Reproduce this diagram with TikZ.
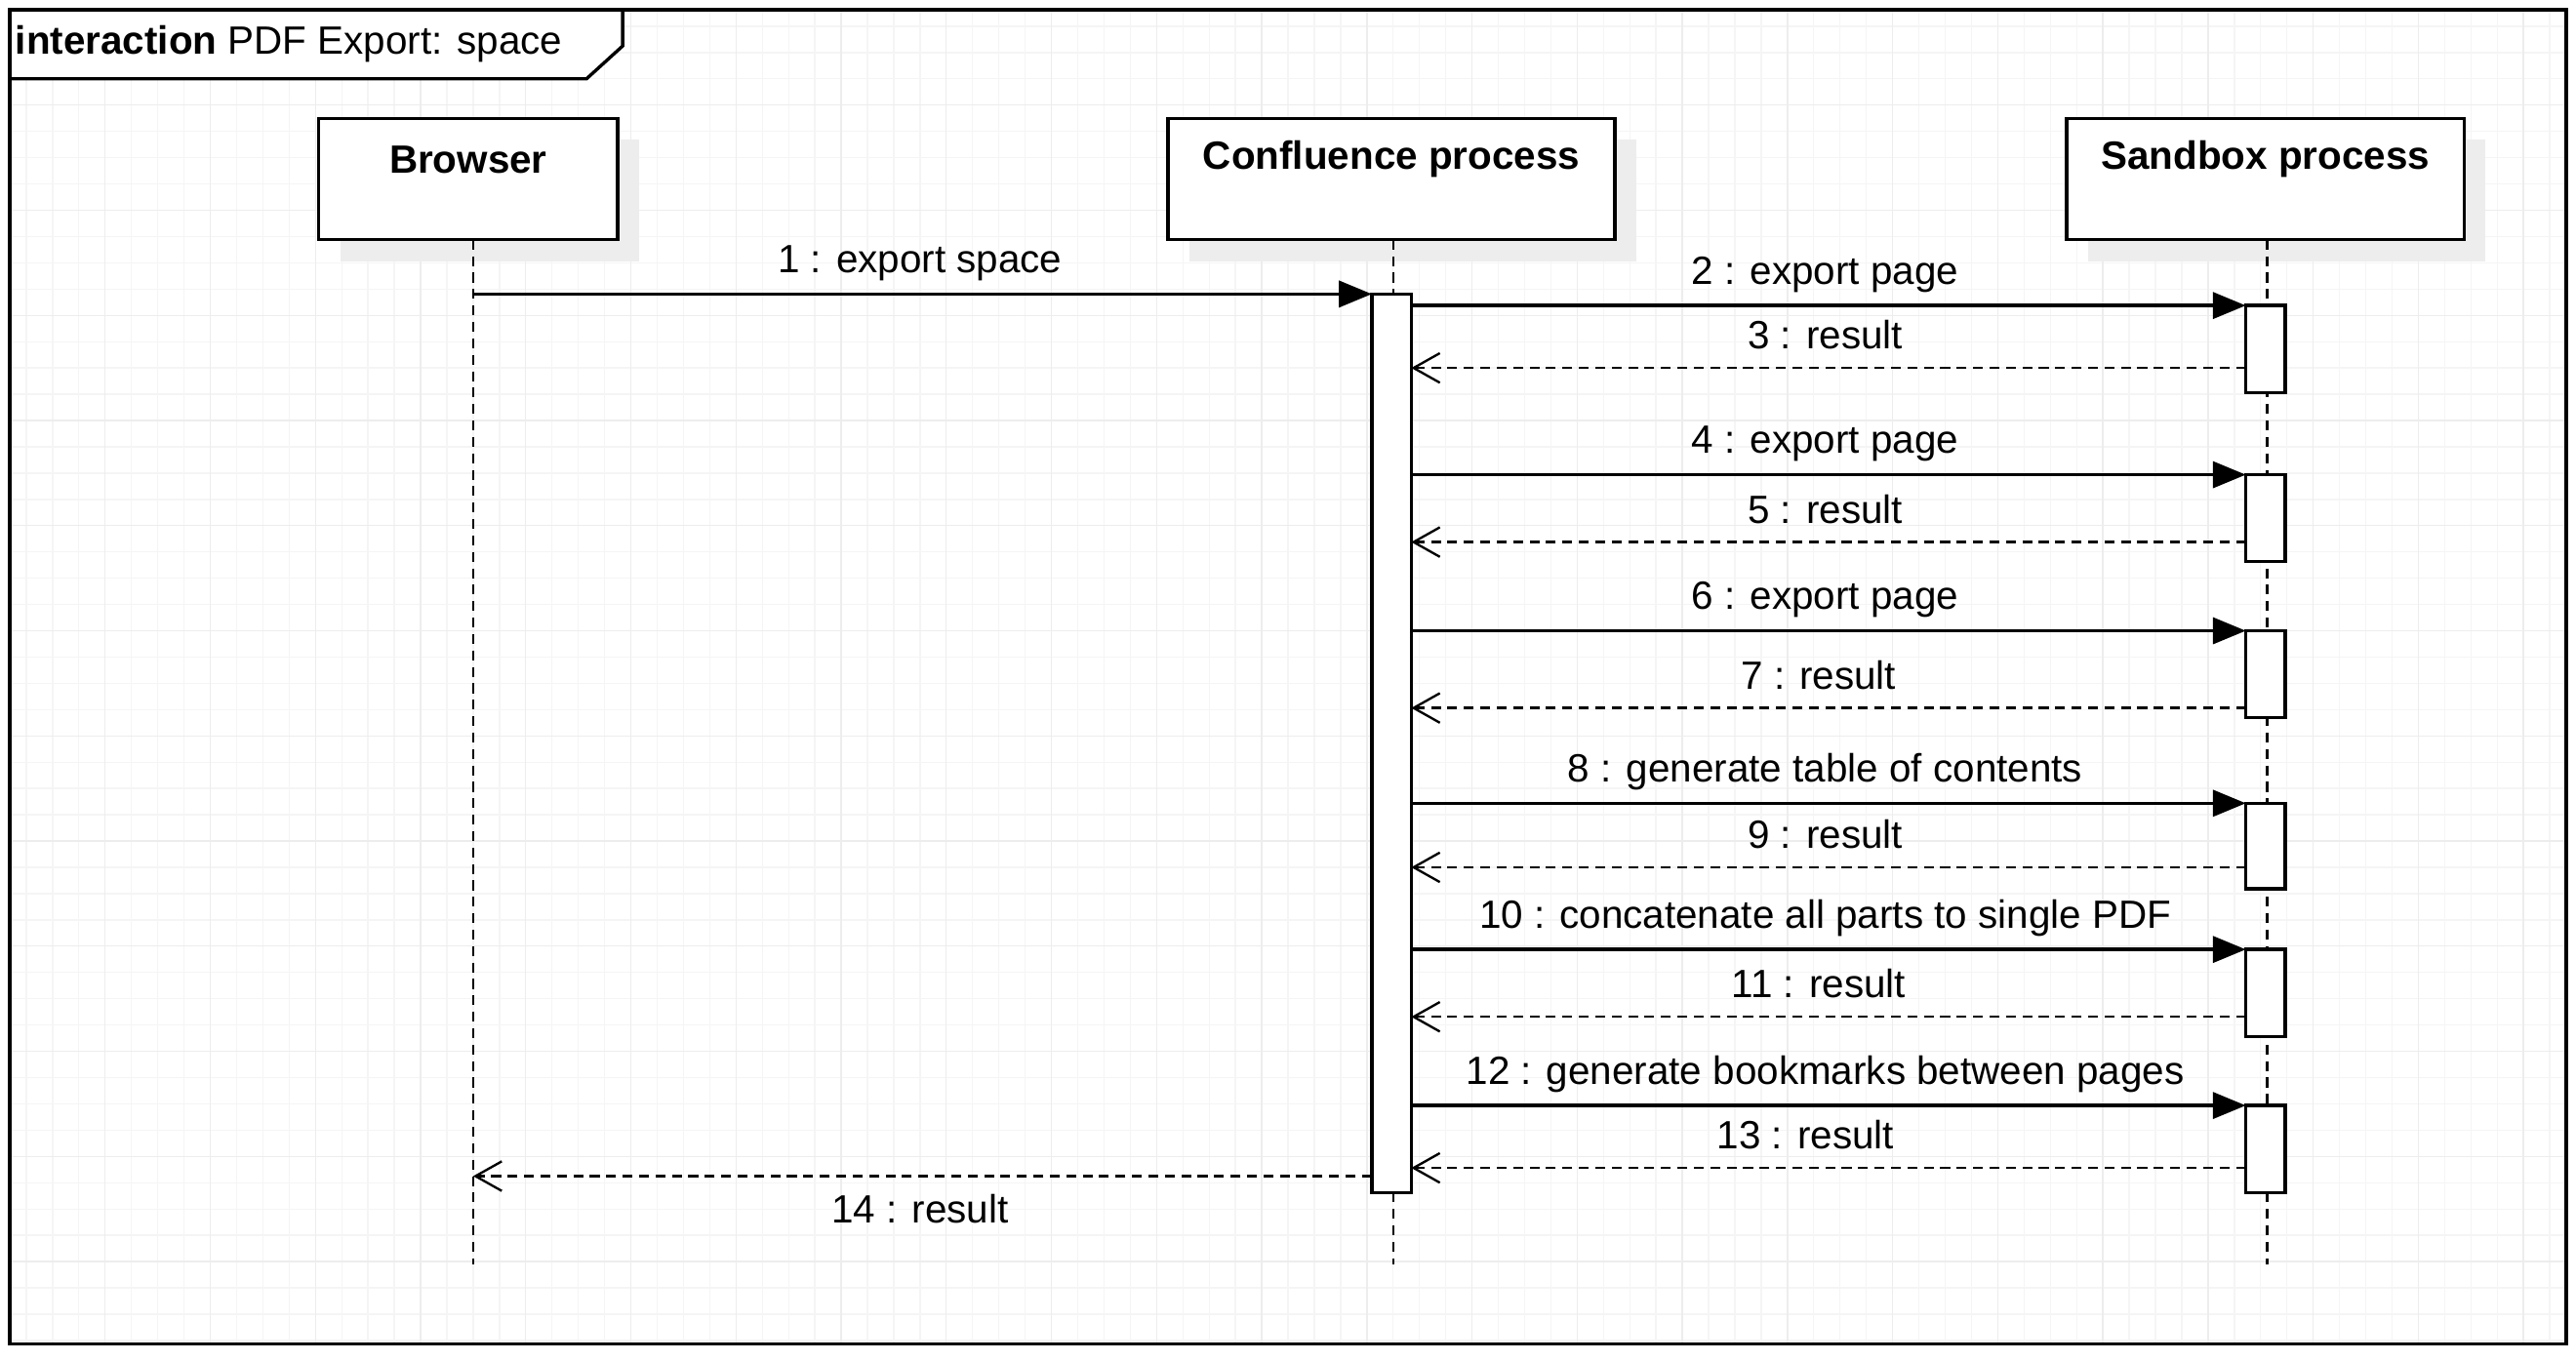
\documentclass[tikz,border=0pt]{standalone}
\usepackage{fontspec}
\setmainfont{Liberation Sans}
\usetikzlibrary{arrows.meta}
\begin{document}
\begin{tikzpicture}[x=0.5pt,y=-0.5pt,
  every node/.style={font=\fontsize{12}{14}\selectfont},
  obj/.style={draw,line width=1pt,fill=white},
  shadow/.style={fill=black!7},
  life/.style={line width=0.7pt,dash pattern=on 3pt off 2pt},
  act/.style={draw,line width=1pt,fill=white},
  call/.style={line width=1pt,-{Triangle[length=10pt,width=8pt]}},
  ret/.style={line width=0.7pt,dash pattern=on 3pt off 2pt,-{Straight Barb[length=8pt,width=9pt,line width=0.7pt]}},
  lab/.style={inner sep=0pt}]
\useasboundingbox (0,0) rectangle (1568,828);
\fill[white] (0,0) rectangle (1568,828);
\draw[black!4,line width=0.4pt,step=8pt] (6,818) grid (1562,6);
\draw[black!7,line width=0.4pt,step=32pt] (6,818) grid (1562,6);
% frame
\draw[line width=1pt] (6,6) rectangle (1562,818);
\draw[line width=1pt,fill=white] (6,6) -- (379,6) -- (379,28) -- (357,48) -- (6,48) -- cycle;
\node[anchor=west,inner sep=0pt] (title) at (9,27) {\textbf{interaction} PDF Export: space};
% objects
\fill[shadow] (207,85) rectangle (389,159);
\fill[shadow] (724,85) rectangle (996,159);
\fill[shadow] (1271,85) rectangle (1513,159);
\draw[obj] (194,72) rectangle (376,146);
\draw[obj] (711,72) rectangle (983,146);
\draw[obj] (1258,72) rectangle (1500,146);
\node (b) at (285,97) {\textbf{Browser}};
\node (c) at (847,97) {\textbf{Confluence process}};
\node (s) at (1379,97) {\textbf{Sandbox process}};
% lifelines
\coordinate (bt) at (288,146); \coordinate (bb) at (288,770);
\coordinate (ct) at (848,146); \coordinate (cb) at (848,770);
\coordinate (st) at (1380,146); \coordinate (sb) at (1380,770);
\draw[life] (bt) -- (bb);
\draw[life] (ct) -- (cb);
\draw[life] (st) -- (sb);
% activations
\draw[act] (835,179) rectangle (859,726);
\foreach \a/\b in {186/239,289/342,384/437,489/541,578/631,673/726}
  \draw[act] (1367,\a) rectangle (1391,\b);
% message 1 and 14
\coordinate (m1a) at (288,179); \coordinate (m1b) at (835,179);
\draw[call] (m1a) -- (m1b);
\node[lab] at (560,160) {1 : export space};
\coordinate (m14a) at (835,716); \coordinate (m14b) at (288,716);
\draw[ret] (m14a) -- (m14b);
\node[lab] at (560,736) {14 : result};
% sandbox messages
\foreach \y/\t/\ry/\rt/\rx in {
  186/{2 : export page}/224/{3 : result}/1111,
  289/{4 : export page}/330/{5 : result}/1111,
  384/{6 : export page}/431/{7 : result}/1107,
  489/{8 : generate table of contents}/528/{9 : result}/1111,
  578/{10 : concatenate all parts to single PDF}/619/{11 : result}/1107,
  673/{12 : generate bookmarks between pages}/711/{13 : result}/1099}{
  \coordinate (ca\y) at (859,\y); \coordinate (sa\y) at (1367,\y);
  \draw[call] (ca\y) -- (sa\y);
  \node[lab] at (1111,\y-19) {\t};
  \coordinate (ra\ry) at (1367,\ry); \coordinate (rb\ry) at (859,\ry);
  \draw[ret] (ra\ry) -- (rb\ry);
  \node[lab] at (\rx,\ry-20) {\rt};
}
\end{tikzpicture}
\end{document}
